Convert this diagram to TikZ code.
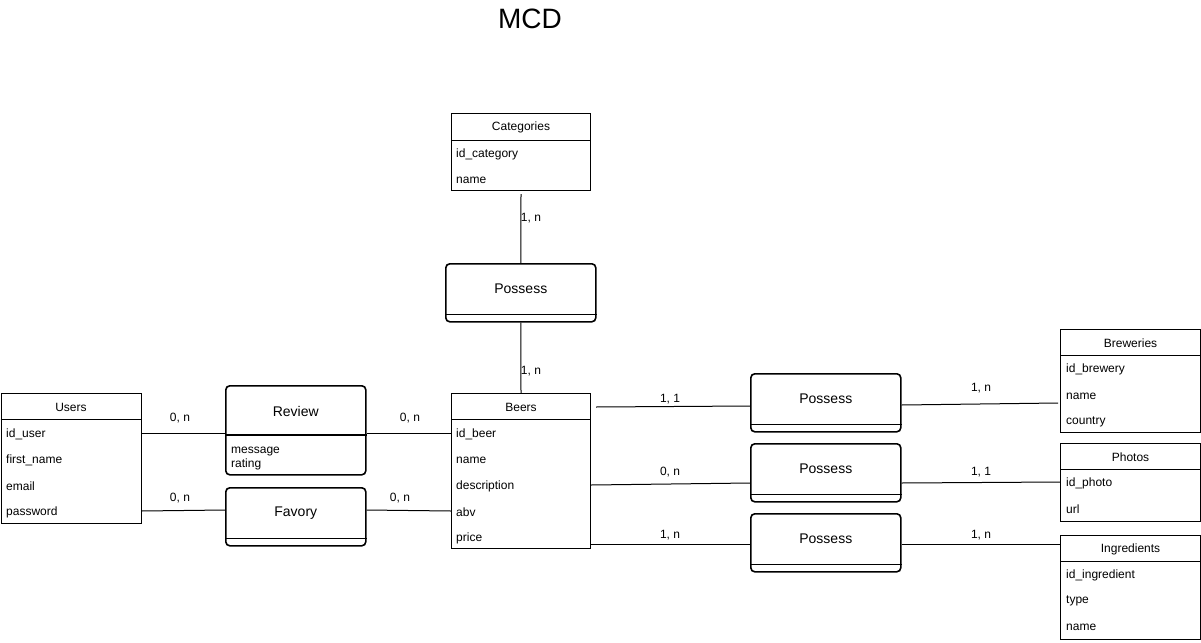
\documentclass[tikz,border=0pt]{standalone}
\usepackage{fontspec}
\setmainfont{Liberation Sans}
\usetikzlibrary{calc}
\begin{document}
\begin{tikzpicture}[x=1pt,y=-1pt,
  ent/.style={draw,line width=1pt,inner sep=0pt,anchor=north west},
  field/.style={anchor=west,inner sep=0pt,font=\fontsize{12}{14}\selectfont},
  etitle/.style={inner sep=0pt,font=\fontsize{12}{14}\selectfont},
  rel/.style={draw,line width=1.6pt,rounded corners=4pt,inner sep=0pt,anchor=north west},
  rtitle/.style={inner sep=0pt,font=\fontsize{14}{16}\selectfont},
  card/.style={inner sep=0pt,font=\fontsize{12}{14}\selectfont},
  link/.style={line width=1pt}]
\useasboundingbox (0,0) rectangle (1201,642);
\node[font=\fontsize{28}{32}\selectfont,inner sep=0pt] (title) at (530,19) {MCD};

% entity macro: name, x, y, w, h, header height, title
\newcommand\erent[7]{%
  \node[ent,minimum width=#4pt,minimum height=#5pt] (#1) at (#2,#3) {};
  \draw[line width=1pt] ($(#1.north west)+(0,#6)$) -- ($(#1.north east)+(0,#6)$);
  \node[etitle] (#1-t) at ($(#1.north)+(0,#6/2+1)$) {#7};}
\newcommand\erfield[4]{\node[field] (#1) at (#2,#3+1) {#4};}
\newcommand\errel[6]{%
  \node[rel,minimum width=#4pt,minimum height=#5pt] (#1) at (#2,#3) {};
  \node[rtitle] (#1-t) at ($(#1.north)+(0,26)$) {#6};}

% Entities
\erent{cat}{451}{113}{139}{77}{27}{Categories}
\erfield{cat1}{456}{153}{id\_category}
\erfield{cat2}{456}{179}{name}

\erent{usr}{0.5}{393}{140}{130}{26}{Users}
\erfield{usr1}{6}{433}{id\_user}
\erfield{usr2}{6}{459}{first\_name}
\erfield{usr3}{6}{485}{email}
\erfield{usr4}{6}{511}{password}

\erent{beer}{451}{393}{139}{155}{26}{Beers}
\erfield{beer1}{456}{433}{id\_beer}
\erfield{beer2}{456}{459}{name}
\erfield{beer3}{456}{485}{description}
\erfield{beer4}{456}{511}{abv}
\erfield{beer5}{456}{537}{price}

\erent{brw}{1060}{329}{140}{103}{26}{Breweries}
\erfield{brw1}{1066}{368}{id\_brewery}
\erfield{brw2}{1066}{395}{name}
\erfield{brw3}{1066}{421}{country}

\erent{pho}{1060}{443}{140}{78}{26}{Photos}
\erfield{pho1}{1066}{482}{id\_photo}
\erfield{pho2}{1066}{508}{url}

\erent{ing}{1060}{535}{140}{104}{26}{Ingredients}
\erfield{ing1}{1066}{574}{id\_ingredient}
\erfield{ing2}{1066}{600}{type}
\erfield{ing3}{1066}{626}{name}

% Relations
\errel{pc}{445}{263}{150}{58}{Possess}
\draw[line width=1.6pt] ($(pc.south west)+(0,-8)$) -- ($(pc.south east)+(0,-8)$);

\errel{rev}{225}{385}{140}{89}{Review}
\draw[line width=1.6pt] ($(rev.north west)+(0,50)$) -- ($(rev.north east)+(0,50)$);
\node[field,font=\fontsize{12}{13.5}\selectfont,align=left,anchor=north west] (revf) at (231,447) {message\\rating};

\errel{fav}{225}{487}{140}{58}{Favory}
\draw[line width=1.6pt] ($(fav.south west)+(0,-8)$) -- ($(fav.south east)+(0,-8)$);

\errel{pb}{750}{373}{150}{58}{Possess}
\draw[line width=1.6pt] ($(pb.south west)+(0,-8)$) -- ($(pb.south east)+(0,-8)$);
\errel{pp}{750}{443}{150}{58}{Possess}
\draw[line width=1.6pt] ($(pp.south west)+(0,-8)$) -- ($(pp.south east)+(0,-8)$);
\errel{pi}{750}{513}{150}{58}{Possess}
\draw[line width=1.6pt] ($(pi.south west)+(0,-8)$) -- ($(pi.south east)+(0,-8)$);

% Links
\draw[link] ($(cat.south)+(0,3)$) -- (pc.north);
\node[card] (l1) at (531,218) {1, n};
\draw[link] (pc.south) -- (beer.north);
\node[card] (l2) at (531,371) {1, n};

\draw[link] (usr.east |- 0,433) -- (rev.west |- 0,433);
\node[card] (l3) at (180,418) {0, n};
\draw[link] (rev.east |- 0,433) -- (beer.west |- 0,433);
\node[card] (l4) at (410,418) {0, n};

\draw[link] (usr.east |- 0,511) -- (fav.west |- 0,510);
\node[card] (l5) at (180,498) {0, n};
\draw[link] (fav.east |- 0,510) -- (beer.west |- 0,511);
\node[card] (l6) at (400,498) {0, n};

\draw[link] ($(beer.east |- 0,407)+(5,0)$) -- (pb.west |- 0,406);
\node[card] (l7) at (670,399) {1, 1};
\draw[link] (pb.east |- 0,405) -- ($(brw.west |- 0,403)+(-2,0)$);
\node[card] (l8) at (981,388) {1, n};

\draw[link] (beer.east |- 0,485) -- (pp.west |- 0,483);
\node[card] (l9) at (670,472) {0, n};
\draw[link] (pp.east |- 0,483) -- (pho.west |- 0,482);
\node[card] (l10) at (981,472) {1, 1};

\draw[link] (beer.east |- 0,544) -- (pi.west |- 0,544);
\node[card] (l11) at (670,535) {1, n};
\draw[link] (pi.east |- 0,544) -- (ing.west |- 0,544);
\node[card] (l12) at (981,535) {1, n};
\end{tikzpicture}
\end{document}
